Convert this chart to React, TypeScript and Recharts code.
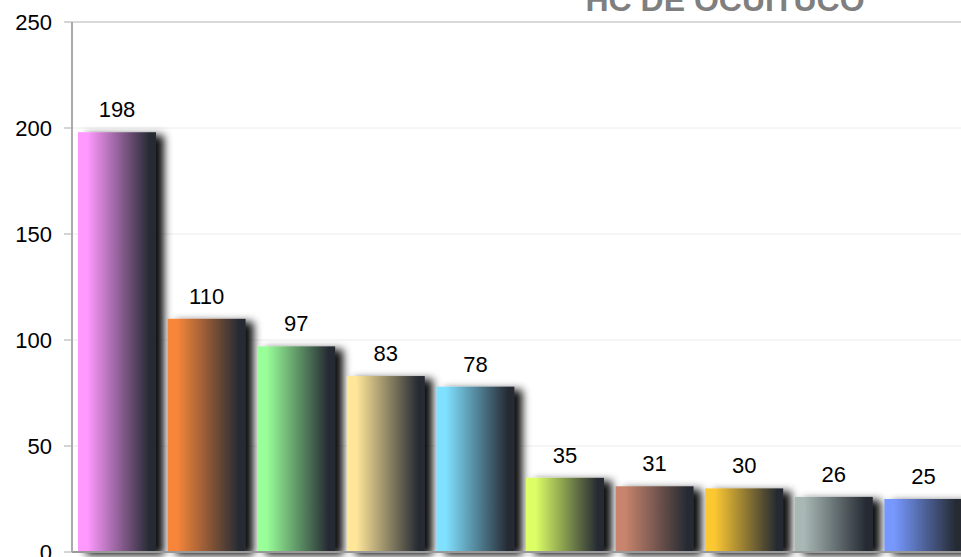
import React from "react";
import { BarChart, Bar, XAxis, YAxis, CartesianGrid, LabelList, ReferenceLine } from "recharts";

const categories = ["1", "2", "3", "4", "5", "6", "7", "8", "9", "10"];
const values = [198, 110, 97, 83, 78, 35, 31, 30, 26, 25];
const barColors = ["#ff99ff", "#f7863a", "#99ff99", "#ffe699", "#80e0ff", "#ddff66", "#c8846c", "#fcc832", "#a8b8b4", "#7799ff"];
const yTicks = [0, 50, 100, 150, 200, 250];
const title = "HC DE OCUITUCO";

const data = categories.map((c, i) => ({ name: c, value: values[i], idx: i }));

const BarShape = (props: any) => {
  const { x, y, width, height, index } = props;
  if (height <= 0) return null;
  return (
    <rect x={x} y={y} width={width} height={height} fill={`url(#grad${index})`} filter="url(#barShadow)" />
  );
};

export default function App() {
  return (
    <div style={{ position: "absolute", left: 0, top: 0, width: 961, height: 557, overflow: "hidden", background: "#fff" }}>
      <svg width={0} height={0} style={{ position: "absolute" }}>
        <defs>
          {barColors.map((c, i) => (
            <linearGradient key={i} id={`grad${i}`} x1="0" y1="0" x2="1" y2="0">
              <stop offset="0%" stopColor={c} />
              <stop offset="12%" stopColor={c} />
              <stop offset="92%" stopColor="#252a33" />
              <stop offset="100%" stopColor="#252a33" />
            </linearGradient>
          ))}
          <filter id="barShadow" x="-20%" y="-20%" width="160%" height="160%">
            <feDropShadow dx="8" dy="3" stdDeviation="4" floodColor="#000" floodOpacity="0.95" />
          </filter>
        </defs>
      </svg>
      <BarChart
        width={968}
        height={557}
        data={data}
        margin={{ top: 22, right: 0, bottom: 4, left: 0 }}
        style={{ fontFamily: "Liberation Sans, Arial, sans-serif" }}
      >
        <CartesianGrid vertical={false} stroke="#ececec" />
        <ReferenceLine y={250} stroke="#d9d9d9" strokeWidth={2} />
        <XAxis dataKey="name" tick={false} tickLine={false} height={1} axisLine={{ stroke: "#999", strokeWidth: 2 }} />
        <YAxis
          domain={[0, 250]}
          ticks={yTicks}
          width={72}
          tickSize={8}
          tickMargin={12}
          axisLine={{ stroke: "#aaa", strokeWidth: 2 }}
          tickLine={{ stroke: "#aaa" }}
          tick={{ fontSize: 22, fill: "#000", fontFamily: "Liberation Sans, Arial, sans-serif" }}
          interval={0}
        />
        <Bar dataKey="value" barSize={78} isAnimationActive={false} shape={<BarShape />}>
          <LabelList
            dataKey="value"
            position="top"
            offset={15}
            fontSize={22}
            fill="#000"
            fontFamily="Liberation Sans, Arial, sans-serif"
          />
        </Bar>
      </BarChart>
      <svg width={961} height={40} style={{ position: "absolute", left: 0, top: 0, pointerEvents: "none" }}>
        <text x={725} y={11} textAnchor="middle" fontSize={32} fontWeight="bold" fill="#7f7f7f" fontFamily="Liberation Sans, Arial, sans-serif">
          {title}
        </text>
      </svg>
    </div>
  );
}
